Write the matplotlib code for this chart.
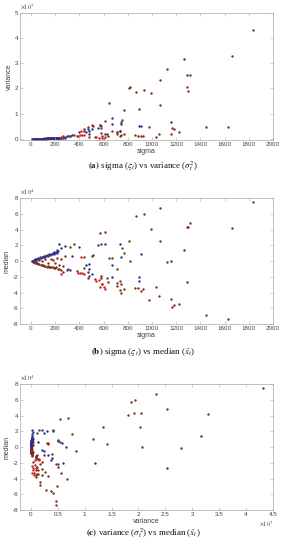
import numpy as np
import matplotlib
matplotlib.use('Agg')
import matplotlib.pyplot as plt
from matplotlib.ticker import ScalarFormatter, FuncFormatter

plt.rcParams['font.family'] = ['Liberation Sans', 'DejaVu Sans']
plt.rcParams['mathtext.fontset'] = 'stix'

# ---- data: sigma, variance (x1e7), median (x1e4), grouped by colour ----
brown_sigma = [1833, 1661, 1125, 1314, 1286, 1300, 1069, 1069, 936, 869, 992, 812, 822,
               1450, 1628, 1161, 1167, 1181, 1222, 978, 1036, 1056, 922, 644, 769,
               611, 572, 742, 750, 578, 356, 320, 672, 708, 625, 583, 578, 572, 589, 633,
               711, 708, 739, 744, 733, 772, 861, 883, 906, 472, 439, 511, 506, 383, 264,
               436, 483, 528,
               10, 18, 26, 35, 44, 52, 60, 70, 80, 90, 100, 110, 120, 130, 140, 150, 160,
               170, 180, 190, 200, 210, 220, 235, 250,
               40, 70, 95, 120, 145, 165, 185, 200, 215, 230, 250, 265, 280]
brown_var = [4.31, 3.30, 2.79, 2.53, 2.05, 1.91, 2.33, 1.34, 1.93, 1.87, 1.80, 2.02, 2.06,
             0.47, 0.47, 0.18, 0.42, 0.37, 0.28, 0.48, 0.06, 0.18, 0.10, 1.41, 1.15,
             0.70, 0.54, 0.67, 0.76, 0.42, 0.16, 0.12, 0.32, 0.25, 0.17, 0.21, 0.50, 0.56, 0.10, 0.10,
             0.20, 0.26, 0.32, 0.13, 0.11, 0.20, 0.13, 0.11, 0.10, 0.47, 0.30, 0.50, 0.54, 0.10, 0.10,
             0.40, 0.05, 0.08,
             0.000, 0.000, 0.000, 0.001, 0.001, 0.001, 0.002, 0.002, 0.003, 0.004, 0.005, 0.006,
             0.007, 0.008, 0.010, 0.011, 0.013, 0.014, 0.016, 0.018, 0.020, 0.022, 0.024, 0.028, 0.031,
             0.001, 0.002, 0.004, 0.007, 0.010, 0.013, 0.017, 0.020, 0.024, 0.027, 0.035, 0.040, 0.050]
brown_med = [7.5, 4.2, -0.13, 4.8, 4.35, 4.35, 6.7, 2.55, 6.0, 5.75, 4.05, 2.5, 0.05,
             -6.85, -7.4, -4.85, -5.85, -5.55, -5.4, -5.0, -3.35, -4.45, -3.5, 0.4, 1.05,
             3.75, 3.5, -4.1, 1.6, 2.2, 2.15, 1.8, 0.35, -0.95, -2.2, -1.85, -2.2, -3.25, -2.95, -2.7,
             -2.75, -3.2, -3.7, -2.95, -2.5, -3.6, -3.45, -3.45, -3.8, -2.1, 0.45, 0.8, 0.65, -1.3, -1.4,
             -0.9, -1.9, -2.3,
             -0.05, -0.1, -0.15, -0.2, -0.3, -0.3, -0.4, -0.4, -0.45, -0.5, -0.55, -0.6, -0.6, -0.7,
             -0.65, -0.75, -0.7, -0.8, -0.75, -0.85, -0.9, -0.8, -1.0, -1.05, -1.2,
             0.05, 0.1, 0.0, 0.2, -0.2, 0.3, 0.1, -0.3, 0.4, -0.5, 0.2, -0.6, 0.6]

blue_sigma = [1264, 1289, 1161, 889, 667, 744, 667, 911, 894, 739, 608, 556, 400, 508, 472,
              478, 458, 480, 339, 250, 230, 280, 215,
              15, 30, 45, 60, 75, 90, 105, 120, 135, 150, 165, 180, 195, 210, 225]
blue_var = [3.16, 2.53, 0.66, 1.20, 0.84, 0.58, 0.60, 0.50, 0.50, 0.30, 0.20, 0.41, 0.25, 0.37, 0.40,
            0.32, 0.25, 0.20, 0.14, 0.02, 0.03, 0.04, 0.02,
            0.000, 0.000, 0.001, 0.002, 0.003, 0.004, 0.006, 0.008, 0.010, 0.013, 0.016,
            0.019, 0.023, 0.027, 0.032]
blue_med = [1.45, -2.7, 0.05, -2.0, -0.5, 0.5, -2.05, 0.95, -2.5, 2.1, 2.15, 2.0, 1.75, -1.6, -1.4,
            -1.05, -0.5, -0.4, 0.65, 1.6, 2.2, 1.9, 1.4,
            0.0, 0.1, 0.3, 0.35, 0.45, 0.5, 0.6, 0.7, 0.75, 0.85, 0.95, 1.0, 1.1, 1.2, 1.3]

red_sigma = [417, 389, 405, 420, 439, 245, 560, 590, 600, 540, 615]
red_var = [0.32, 0.12, 0.14, 0.15, 0.16, 0.07, 0.03, 0.04, 0.02, 0.05, 0.06]
red_med = [0.55, -1.5, -1.55, -1.5, -1.6, -1.6, -2.4, -2.9, -3.3, -2.6, -3.6]

purple_sigma = [306, 320, 296, 8, 22, 38, 52, 68, 82, 98, 112, 128, 142, 158, 172, 188, 202, 218]
purple_var = [0.12, 0.10, 0.09, 0.000, 0.000, 0.001, 0.002, 0.003, 0.005, 0.007, 0.009, 0.012,
              0.015, 0.018, 0.022, 0.026, 0.030, 0.035]
purple_med = [-1.0, -1.15, -1.1, 0.05, 0.15, 0.2, 0.2, 0.3, 0.4, 0.45, 0.55, 0.6, 0.7, 0.8,
              0.85, 0.95, 1.0, 1.05]

groups = [
    (brown_sigma, brown_var, brown_med, '#7e3018'),
    (purple_sigma, purple_var, purple_med, '#58307e'),
    (blue_sigma, blue_var, blue_med, '#28308e'),
    (red_sigma, red_var, red_med, '#d81e24'),
]

TXT = '#404040'
EDGE = '#a8a8a8'


def style(ax):
    for sp in ax.spines.values():
        sp.set_color(EDGE)
        sp.set_linewidth(0.5)
    ax.tick_params(direction='in', length=2, width=0.4, color=EDGE, labelcolor=TXT,
                   labelsize=4.5, pad=1.5, top=True, right=True)


def scaled(axis, ax, exp, where):
    # tick labels divided by 10^exp, with a matlab-like "x10^exp" note
    axis.set_major_formatter(FuncFormatter(lambda v, p: f'{v / 10**exp:g}'))
    if where == 'top':
        ax.text(0.0, 1.015, rf'$\times10^{exp}$', transform=ax.transAxes,
                fontsize=4.5, color=TXT, ha='left', va='bottom')
    else:
        ax.text(1.0, -0.07, rf'$\times10^{exp}$', transform=ax.transAxes,
                fontsize=4.5, color=TXT, ha='right', va='top')


def draw(ax, xi, yi):
    for g in groups:
        x = np.array(g[0], dtype=float)
        v = np.array(g[1]) * 1e7
        m = np.array(g[2]) * 1e4
        cols = {0: x, 1: v, 2: m}
        ax.scatter(cols[xi], cols[yi], s=3, c=g[3], linewidths=0)


fig = plt.figure(figsize=(2.84, 5.5), dpi=100)

# (a) sigma vs variance
ax1 = fig.add_axes([0.0704, 0.7455, 0.891, 0.2309])
draw(ax1, 0, 1)
ax1.set_xlim(-90, 2000)
ax1.set_ylim(-0.05e7, 5e7)
ax1.set_xticks(np.arange(0, 2001, 200))
ax1.set_yticks(np.arange(0, 5.01e7, 1e7))
scaled(ax1.yaxis, ax1, 7, 'top')
style(ax1)
ax1.set_xlabel('sigma', fontsize=5, color=TXT, labelpad=1)
ax1.set_ylabel('variance', fontsize=5, color=TXT, labelpad=1)

# (b) sigma vs median
ax2 = fig.add_axes([0.0704, 0.4109, 0.891, 0.229])
draw(ax2, 0, 2)
ax2.set_xlim(-90, 2000)
ax2.set_ylim(-8e4, 8e4)
ax2.set_xticks(np.arange(0, 2001, 200))
ax2.set_yticks(np.arange(-8e4, 8.01e4, 2e4))
scaled(ax2.yaxis, ax2, 4, 'top')
style(ax2)
ax2.set_xlabel('sigma', fontsize=5, color=TXT, labelpad=1)
ax2.set_ylabel('median', fontsize=5, color=TXT, labelpad=1)

# (c) variance vs median
ax3 = fig.add_axes([0.0704, 0.0727, 0.891, 0.229])
draw(ax3, 1, 2)
ax3.set_xlim(-0.2e7, 4.5e7)
ax3.set_ylim(-8e4, 8e4)
ax3.set_xticks(np.arange(0, 4.51e7, 0.5e7))
ax3.set_yticks(np.arange(-8e4, 8.01e4, 2e4))
scaled(ax3.xaxis, ax3, 7, 'bottom')
scaled(ax3.yaxis, ax3, 4, 'top')
style(ax3)
ax3.set_xlabel('variance', fontsize=5, color=TXT, labelpad=1)
ax3.set_ylabel('median', fontsize=5, color=TXT, labelpad=1)

cap = dict(ha='center', va='center', fontsize=6.5, family='Liberation Serif', color='#111111')
fig.text(0.505, 0.698, r'$\mathbf{(a)}$ sigma ($\varsigma_t$) vs variance ($\sigma_t^2$)', **cap)
fig.text(0.505, 0.358, r'$\mathbf{(b)}$ sigma ($\varsigma_t$) vs median ($\tilde{x}_t$)', **cap)
fig.text(0.505, 0.031, r'$\mathbf{(c)}$ variance ($\sigma_t^2$) vs median ($\tilde{x}_t$)', **cap)

fig.savefig('out.png', dpi=100)
